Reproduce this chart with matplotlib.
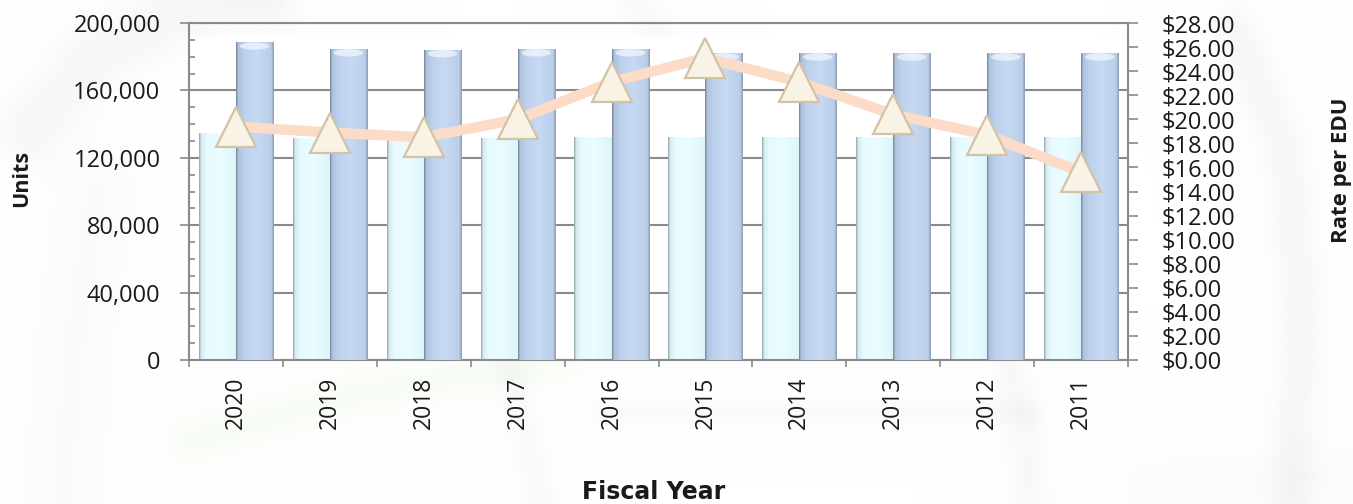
import numpy as np
import matplotlib
matplotlib.use("Agg")
import matplotlib.pyplot as plt
from matplotlib.patches import Ellipse
from matplotlib.ticker import FuncFormatter, MultipleLocator, FixedLocator

# ---- data -------------------------------------------------------------
years = ["2020", "2019", "2018", "2017", "2016", "2015", "2014", "2013", "2012", "2011"]
units_a = [134700, 132000, 132000, 132000, 132300, 132300, 132300, 132300, 132300, 132300]
units_b = [188500, 184500, 184000, 184500, 184500, 182000, 182000, 182000, 182000, 182000]
rate_per_edu = [19.4, 18.9, 18.5, 20.0, 23.1, 25.1, 23.1, 20.4, 18.7, 15.6]

units_ticks = [0, 40000, 80000, 120000, 160000, 200000]
rate_ticks = list(range(0, 29, 2))

plt.rcParams["font.family"] = ["Open Sans", "DejaVu Sans"]

W, H = 1353, 504
fig = plt.figure(figsize=(W / 100, H / 100), dpi=100)
fig.patch.set_facecolor("white")

# ---- soft watermark behind the chart -----------------------------------
yy, xx = np.mgrid[0:H, 0:W].astype(float)


def stroke(points, sigma):
    d2 = np.full((H, W), np.inf)
    for (x0, y0), (x1, y1) in zip(points[:-1], points[1:]):
        dx, dy = x1 - x0, y1 - y0
        t = ((xx - x0) * dx + (yy - y0) * dy) / (dx * dx + dy * dy)
        t = np.clip(t, 0, 1)
        px, py = x0 + t * dx, y0 + t * dy
        d2 = np.minimum(d2, (xx - px) ** 2 + (yy - py) ** 2)
    return np.exp(-d2 / (2 * sigma ** 2))


grey = np.zeros((H, W))
grey += 0.06 * stroke([(30, 130), (90, 60), (170, 15), (260, -15)], 24)
grey += 0.03 * stroke([(95, 190), (75, 330), (60, 520)], 32)
grey += 0.06 * stroke([(1235, 30), (1285, 150), (1300, 300), (1290, 520)], 16)
grey += 0.04 * stroke([(505, 340), (522, 420), (545, 520)], 12)
grey += 0.045 * stroke([(1005, 345), (1022, 420), (1032, 520)], 14)
grey += 0.035 * stroke([(600, 413), (1030, 413)], 9)
grey += 0.04 * stroke([(630, -10), (655, 30)], 14)
grey += 0.03 * stroke([(250, -10), (280, 20)], 14)
grey += 0.025 * stroke([(1150, 485), (1353, 475)], 22)
grey = np.clip(grey, 0, 0.1)

green = 0.14 * stroke([(190, 440), (350, 395), (560, 358)], 16)
green = np.clip(green, 0, 0.14)

img = np.ones((H, W, 3))
img = img * (1 - grey[..., None]) + 0.45 * grey[..., None]
gcol = np.array([0.80, 0.92, 0.72])
img = img * (1 - green[..., None]) + gcol * green[..., None]

bg = fig.add_axes([0, 0, 1, 1], zorder=-5)
bg.imshow(img, extent=(0, W, H, 0), aspect="auto", interpolation="bilinear")
bg.set_axis_off()

# ---- main axes ----------------------------------------------------------
ax = fig.add_axes([189 / W, 1 - 360 / H, (1128 - 189) / W, 337 / H])
ax.set_facecolor("none")
ax.add_patch(plt.Rectangle((0, 0), 1, 0.958, transform=ax.transAxes,
                           facecolor="white", edgecolor="none", zorder=0))

x = np.arange(len(years))
bw = 0.395
axis_col = "#8a8a8a"

bars_a = ax.bar(x - bw / 2, units_a, width=bw, color="#E0F6FB", edgecolor="none", zorder=2)
bars_b = ax.bar(x + bw / 2, units_b, width=bw, color="#BACEEA", edgecolor="none", zorder=3)


def shade(bar, cols, stops, z, cap=None):
    """Horizontal gradient across a bar, clipped to it."""
    bx, bwid, bh = bar.get_x(), bar.get_width(), bar.get_height()
    n = 96
    u = np.linspace(0, 1, n)
    cols = np.array(cols)
    rgb = np.stack([np.interp(u, stops, cols[:, k]) for k in range(3)], axis=-1)
    grad = np.tile(rgb[None, :, :], (8, 1, 1))
    im = ax.imshow(grad, extent=(bx, bx + bwid, 0, bh), aspect="auto",
                   interpolation="bilinear", zorder=z)
    im.set_clip_path(bar)
    if cap is not None:
        e = Ellipse((bx + bwid / 2, bh - 2200), bwid * 0.80, 4400,
                    facecolor=cap, edgecolor="none", zorder=z + 0.1, alpha=0.75)
        ax.add_patch(e)
        e.set_clip_path(bar)


for b in bars_a:
    shade(b,
          [(0.56, 0.64, 0.67), (0.84, 0.92, 0.94), (0.90, 0.98, 1.0),
           (0.92, 0.99, 1.0), (0.86, 0.96, 0.98)],
          [0.0, 0.05, 0.18, 0.55, 1.0], 2.2)
for b in bars_b:
    shade(b,
          [(0.45, 0.51, 0.58), (0.68, 0.76, 0.86), (0.74, 0.82, 0.93),
           (0.78, 0.85, 0.95), (0.73, 0.81, 0.92), (0.55, 0.61, 0.69)],
          [0.0, 0.05, 0.22, 0.55, 0.93, 1.0], 3.2, cap=(0.94, 0.97, 1.0))

ax.set_xlim(-0.5, len(years) - 0.5)
ax.set_ylim(0, 200000)
ax.yaxis.set_major_locator(FixedLocator(units_ticks))
ax.yaxis.set_minor_locator(MultipleLocator(10000))
ax.yaxis.set_major_formatter(FuncFormatter(lambda v, p: f"{int(v):,}"))
ax.grid(axis="y", which="major", color=axis_col, linewidth=1.5, zorder=1)
ax.set_axisbelow(True)

ax.set_xticks(x)
ax.set_xticklabels(years, rotation=90, fontsize=16.5, color="#1a1a1a")
ax.set_xticks(np.arange(len(years) + 1) - 0.5, minor=True)
ax.tick_params(axis="x", which="major", length=0, pad=12)
ax.tick_params(axis="x", which="minor", length=5, width=1.2, color=axis_col, direction="out")
ax.tick_params(axis="y", which="major", length=13, width=1.2, color=axis_col,
               direction="inout", labelsize=17, labelcolor="#1a1a1a", pad=14)
ax.tick_params(axis="y", which="minor", length=4, width=1.2, color=axis_col, direction="in")
for s in ax.spines.values():
    s.set_color(axis_col)
    s.set_linewidth(1.5)
ax.spines["right"].set_visible(False)

# ---- rate axis -----------------------------------------------------------
ax2 = ax.twinx()
ax2.set_ylim(0, 28)
ax2.yaxis.set_major_locator(FixedLocator(rate_ticks))
ax2.yaxis.set_major_formatter(FuncFormatter(lambda v, p: f"${v:.2f}"))
ax2.tick_params(axis="y", length=7, width=1.2, color=axis_col, direction="out",
                labelsize=17, labelcolor="#1a1a1a", pad=17)
for s in ax2.spines.values():
    s.set_visible(False)
ax2.spines["right"].set_visible(True)
ax2.spines["right"].set_color(axis_col)
ax2.spines["right"].set_linewidth(1.5)

ax2.plot(x, rate_per_edu, color="#FCDCC7", linewidth=7.5, solid_capstyle="butt",
         zorder=4)
ax2.plot(x, rate_per_edu, linestyle="none", marker="^", markersize=29,
         markerfacecolor="#F8F3E4", markeredgecolor="#D2C3A6", markeredgewidth=1.6,
         zorder=5)

# ---- axis titles -----------------------------------------------------------
fig.text(22 / W, 1 - 178 / H, "Units", rotation=90, ha="center", va="center",
         fontsize=15.5, fontweight="bold", color="#1a1a1a")
fig.text(1342 / W, 1 - 170 / H, "Rate per EDU", rotation=90, ha="center", va="center",
         fontsize=16, fontweight="bold", color="#1a1a1a")
fig.text(654 / W, 1 - 492 / H, "Fiscal Year", ha="center", va="center",
         fontsize=17, fontweight="bold", color="#1a1a1a",
         family=["DejaVu Sans"])

fig.savefig("out.png", dpi=100)
